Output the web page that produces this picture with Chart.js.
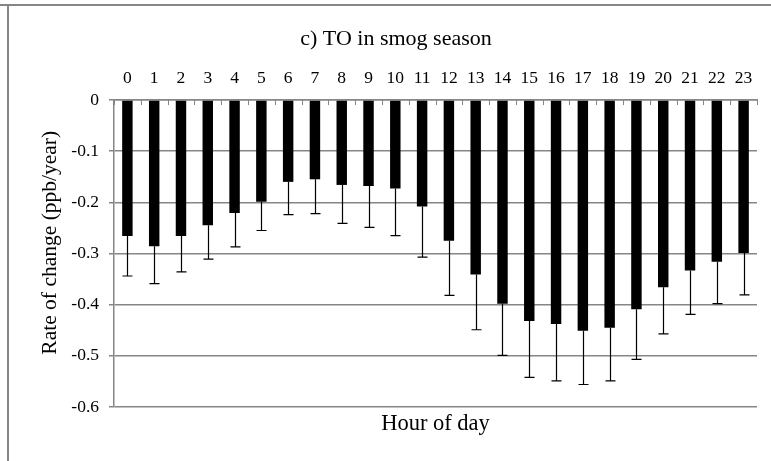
<!DOCTYPE html>
<html>
<head>
<meta charset="utf-8">
<script src="https://cdn.jsdelivr.net/npm/chart.js@4.4.1/dist/chart.umd.min.js"></script>
<style>
  html, body { margin: 0; padding: 0; background: #ffffff; }
  #wrap { width: 771px; height: 461px; }
</style>
</head>
<body>
<div id="wrap"><canvas id="c" width="771" height="461"></canvas></div>
<script>
// ---- data ----
const hours = ['0','1','2','3','4','5','6','7','8','9','10','11','12','13','14','15','16','17','18','19','20','21','22','23'];
const rates = [-0.266, -0.286, -0.266, -0.245, -0.221, -0.199, -0.160, -0.155, -0.166, -0.168, -0.173, -0.208,
               -0.275, -0.341, -0.398, -0.432, -0.438, -0.451, -0.445, -0.409, -0.366, -0.333, -0.316, -0.299];
const errors = [0.078, 0.073, 0.070, 0.066, 0.066, 0.056, 0.064, 0.067, 0.075, 0.081, 0.092, 0.099,
                0.107, 0.108, 0.101, 0.110, 0.111, 0.105, 0.104, 0.098, 0.091, 0.086, 0.082, 0.082];
const titleText = 'c) TO in smog season';
const yTitle = 'Rate of change (ppb/year)';
const xTitle = 'Hour of day';

const GRAY = '#868686';
const SERIF = "'Liberation Serif', 'Times New Roman', serif";

const bgPlugin = {
  id: 'bg',
  beforeDraw(chart) {
    const ctx = chart.ctx;
    ctx.save();
    ctx.fillStyle = '#ffffff';
    ctx.fillRect(0, 0, chart.width, chart.height);
    ctx.restore();
  },
  afterDraw(chart) {
    // outer frame of the chart (top and left edges visible)
    const ctx = chart.ctx;
    ctx.save();
    ctx.strokeStyle = GRAY;
    ctx.lineWidth = 2;
    ctx.beginPath();
    ctx.moveTo(0, 5);
    ctx.lineTo(chart.width, 5);
    ctx.moveTo(8, 5);
    ctx.lineTo(8, chart.height);
    ctx.stroke();
    ctx.restore();
  }
};

const innerTicks = {
  id: 'innerTicks',
  afterDatasetsDraw(chart) {
    const xs = chart.scales.x;
    const top = chart.chartArea.top;
    const half = (xs.getPixelForValue(1) - xs.getPixelForValue(0)) / 2;
    const ctx = chart.ctx;
    ctx.save();
    ctx.strokeStyle = GRAY;
    ctx.lineWidth = 1;
    ctx.beginPath();
    for (let i = 0; i <= hours.length; i++) {
      const x = Math.round(xs.getPixelForValue(i) - half) + 0.5;
      ctx.moveTo(x, top);
      ctx.lineTo(x, top + 5);
    }
    ctx.stroke();
    ctx.restore();
  }
};

const errorBars = {
  id: 'errorBars',
  afterDatasetsDraw(chart) {
    const meta = chart.getDatasetMeta(0);
    const ys = chart.scales.y;
    const ctx = chart.ctx;
    ctx.save();
    ctx.strokeStyle = '#000000';
    ctx.lineWidth = 1.2;
    meta.data.forEach((bar, i) => {
      const x = Math.round(bar.x) + 0.5;
      const y1 = ys.getPixelForValue(rates[i]);
      const y2 = ys.getPixelForValue(rates[i] - errors[i]);
      ctx.beginPath();
      ctx.moveTo(x, y1);
      ctx.lineTo(x, y2);
      ctx.moveTo(x - 5, y2);
      ctx.lineTo(x + 5, y2);
      ctx.stroke();
    });
    ctx.restore();
  }
};

new Chart(document.getElementById('c'), {
  type: 'bar',
  data: {
    labels: hours,
    datasets: [{
      data: rates,
      backgroundColor: '#000000',
      borderWidth: 0,
      barPercentage: 0.39,
      categoryPercentage: 1.0,
      xAxisID: 'x',
      yAxisID: 'y'
    }]
  },
  options: {
    responsive: false,
    animation: false,
    layout: { padding: { left: 35, right: 14, top: 0, bottom: 0 } },
    plugins: {
      legend: { display: false },
      tooltip: { enabled: false },
      title: {
        display: true,
        text: titleText,
        color: '#000000',
        font: { family: SERIF, size: 22, weight: 'normal' },
        padding: { top: 26, bottom: 8 }
      }
    },
    scales: {
      x: {
        type: 'category',
        position: 'top',
        offset: true,
        grid: { display: true, drawOnChartArea: false, drawTicks: false },
        border: { display: true, color: GRAY, width: 1.5 },
        ticks: {
          color: '#000000',
          font: { family: SERIF, size: 17.5 },
          padding: 11,
          maxRotation: 0,
          autoSkip: false
        },
        afterFit(scale) { scale.height = 39.6; }
      },
      x2: {
        type: 'category',
        position: 'bottom',
        labels: hours,
        grid: { display: false },
        border: { display: false },
        ticks: { display: false },
        title: {
          display: true,
          text: xTitle,
          color: '#000000',
          font: { family: SERIF, size: 22.5 },
          padding: { top: 5, bottom: 23 }
        },
        afterFit(scale) { scale.height = 54; }
      },
      y: {
        min: -0.6,
        max: 0,
        ticks: {
          stepSize: 0.1,
          color: '#000000',
          font: { family: SERIF, size: 17.5 },
          padding: 10
        },
        grid: { color: GRAY, lineWidth: 1.5, tickLength: 5, drawTicks: true },
        border: { display: true, color: GRAY, width: 1.5 },
        title: {
          display: true,
          text: '    ' + yTitle,
          color: '#000000',
          font: { family: SERIF, size: 21.5 },
          padding: { top: 2, bottom: 0 }
        },
        afterFit(scale) { scale.width = 79; }
      }
    }
  },
  plugins: [bgPlugin, innerTicks, errorBars]
});
</script>
</body>
</html>
